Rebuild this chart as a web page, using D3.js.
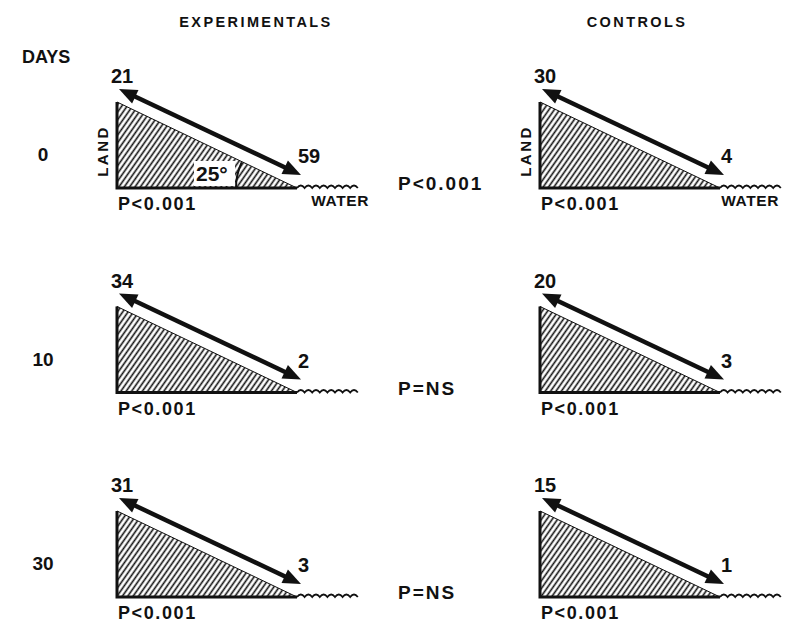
<!DOCTYPE html>
<html>
  <head>
    <meta charset="UTF-8">
    <script src="https://d3js.org/d3.v7.min.js"></script>
    <style>
      body { margin: 0; background: #fff; }
      svg { display: block; }
      text { font-family: "Liberation Sans", Arial, sans-serif; font-weight: bold; fill: #111; }
    </style>
  </head>
  <body>
    <svg id="fig" width="785" height="629"></svg>
    <script>
    // data
    var days = ["0", "10", "30"];
    var groups = ["EXPERIMENTALS", "CONTROLS"];
    var expLand = [21, 34, 31];
    var expWater = [59, 2, 3];
    var ctlLand = [30, 20, 15];
    var ctlWater = [4, 3, 1];
    var expP = ["P<0.001", "P<0.001", "P<0.001"];
    var ctlP = ["P<0.001", "P<0.001", "P<0.001"];
    var betweenP = ["P<0.001", "P=NS", "P=NS"];
    var slopeLabel = "25°";

    var svg = d3.select("#fig");
    var TW = 180, TH = 86;   // triangle size

    var y = d3.scalePoint().domain(days).range([188, 597]);       // base line of each row
    var x = d3.scalePoint().domain(groups).range([117, 540]);     // left edge of each triangle
    var titleX = d3.scaleOrdinal().domain(groups).range([256, 637]);

    var panels = [];
    days.forEach(function(d, i) {
      panels.push({day: d, group: groups[0], land: expLand[i], water: expWater[i], p: expP[i], row: i});
      panels.push({day: d, group: groups[1], land: ctlLand[i], water: ctlWater[i], p: ctlP[i], row: i});
    });

    var defs = svg.append("defs");
    defs.append("pattern")
      .attr("id", "hatch")
      .attr("patternUnits", "userSpaceOnUse")
      .attr("width", 4.4).attr("height", 4.4)
      .attr("patternTransform", "rotate(35)")
      .append("line")
      .attr("x1", 2.2).attr("y1", -1).attr("x2", 2.2).attr("y2", 6)
      .attr("stroke", "#111").attr("stroke-width", 1.6);

    // column titles
    svg.selectAll(".title").data(groups).enter().append("text")
      .attr("x", function(d) { return titleX(d); })
      .attr("y", 27)
      .attr("text-anchor", "middle")
      .style("font-size", "14.5px")
      .style("letter-spacing", "2.4px")
      .text(function(d) { return d; });

    svg.append("text").attr("x", 22).attr("y", 63).style("font-size", "18px").text("DAYS");

    // row labels
    svg.selectAll(".day").data(days).enter().append("text")
      .attr("x", 43)
      .attr("y", function(d) { return y(d) - 27; })
      .attr("text-anchor", "middle")
      .style("font-size", "19px")
      .text(function(d) { return d; });

    // between-group p values
    svg.selectAll(".pmid").data(betweenP).enter().append("text")
      .attr("x", 398)
      .attr("y", function(d, i) { return y(days[i]) + 2; })
      .style("font-size", "19px")
      .style("letter-spacing", "2px")
      .text(function(d) { return d; });

    function drawArrow(g, x0, y0, x1, y1) {
      var dx = x1 - x0, dy = y1 - y0, len = Math.sqrt(dx * dx + dy * dy);
      var ux = dx / len, uy = dy / len, nx = -uy, ny = ux;
      var hl = 18, hw = 7.5;
      g.append("line")
        .attr("x1", x0 + ux * 10).attr("y1", y0 + uy * 10)
        .attr("x2", x1 - ux * 10).attr("y2", y1 - uy * 10)
        .attr("stroke", "#111").attr("stroke-width", 4.5);
      [[x0, y0, 1], [x1, y1, -1]].forEach(function(t) {
        var bx = t[0] + ux * hl * t[2], by = t[1] + uy * hl * t[2];
        g.append("path")
          .attr("d", "M" + t[0] + "," + t[1] +
            "L" + (bx + nx * hw) + "," + (by + ny * hw) +
            "L" + (bx - nx * hw) + "," + (by - ny * hw) + "Z")
          .attr("fill", "#111");
      });
    }

    var panel = svg.selectAll(".panel").data(panels).enter().append("g").attr("class", "panel");

    panel.each(function(d) {
      var g = d3.select(this);
      var ox = x(d.group), by = y(d.day), top = by - TH, vx = ox + TW;

      // hatched slope
      g.append("path")
        .attr("d", "M" + ox + "," + top + "L" + vx + "," + by + "L" + ox + "," + by + "Z")
        .attr("fill", "url(#hatch)")
        .attr("stroke", "#111").attr("stroke-width", 1);
      g.append("path")
        .attr("d", "M" + ox + "," + top + "L" + ox + "," + by + "L" + vx + "," + by)
        .attr("fill", "none").attr("stroke", "#111").attr("stroke-width", 3);

      // water ripples
      var wd = "M" + vx + "," + by;
      for (var k = 0; k < 8; k++) wd += "q3.8,-5 7.6,0";
      g.append("path").attr("d", wd)
        .attr("fill", "none").attr("stroke", "#111").attr("stroke-width", 1.8);

      drawArrow(g, ox + 2, top - 13, vx + 4, by - 13);

      g.append("text").attr("x", ox + 5).attr("y", by - 105)
        .attr("text-anchor", "middle").style("font-size", "20px").text(d.land);
      g.append("text").attr("x", vx + 1).attr("y", by - 25)
        .style("font-size", "20px").text(d.water);
      g.append("text").attr("x", ox + 1).attr("y", by + 22)
        .style("font-size", "18px").style("letter-spacing", "1.6px").text(d.p);

      if (d.row === 0) {
        g.append("text")
          .attr("transform", "translate(" + (ox - 9) + "," + (by - 37) + ") rotate(-90)")
          .attr("text-anchor", "middle")
          .style("font-size", "15px").style("letter-spacing", "2.5px")
          .text("LAND");
        g.append("text").attr("x", Math.min(vx + 72, 779)).attr("y", by + 18)
          .attr("text-anchor", "end")
          .style("font-size", "15.5px").style("letter-spacing", "0.6px")
          .text("WATER");
      }

      if (d.row === 0 && d.group === groups[0]) {
        g.append("rect").attr("x", vx - 103).attr("y", by - 27).attr("width", 41).attr("height", 25).attr("fill", "#fff");
        g.append("text").attr("x", vx - 101).attr("y", by - 7)
          .style("font-size", "21px").text(slopeLabel);
        var r = 61, a = 25 * Math.PI / 180;
        g.append("path")
          .attr("d", "M" + (vx - r) + "," + by + "A" + r + "," + r + " 0 0 1 " + (vx - r * Math.cos(a)) + "," + (by - r * Math.sin(a)))
          .attr("fill", "none").attr("stroke", "#111").attr("stroke-width", 2);
      }
    });
    </script>
  </body>
</html>
